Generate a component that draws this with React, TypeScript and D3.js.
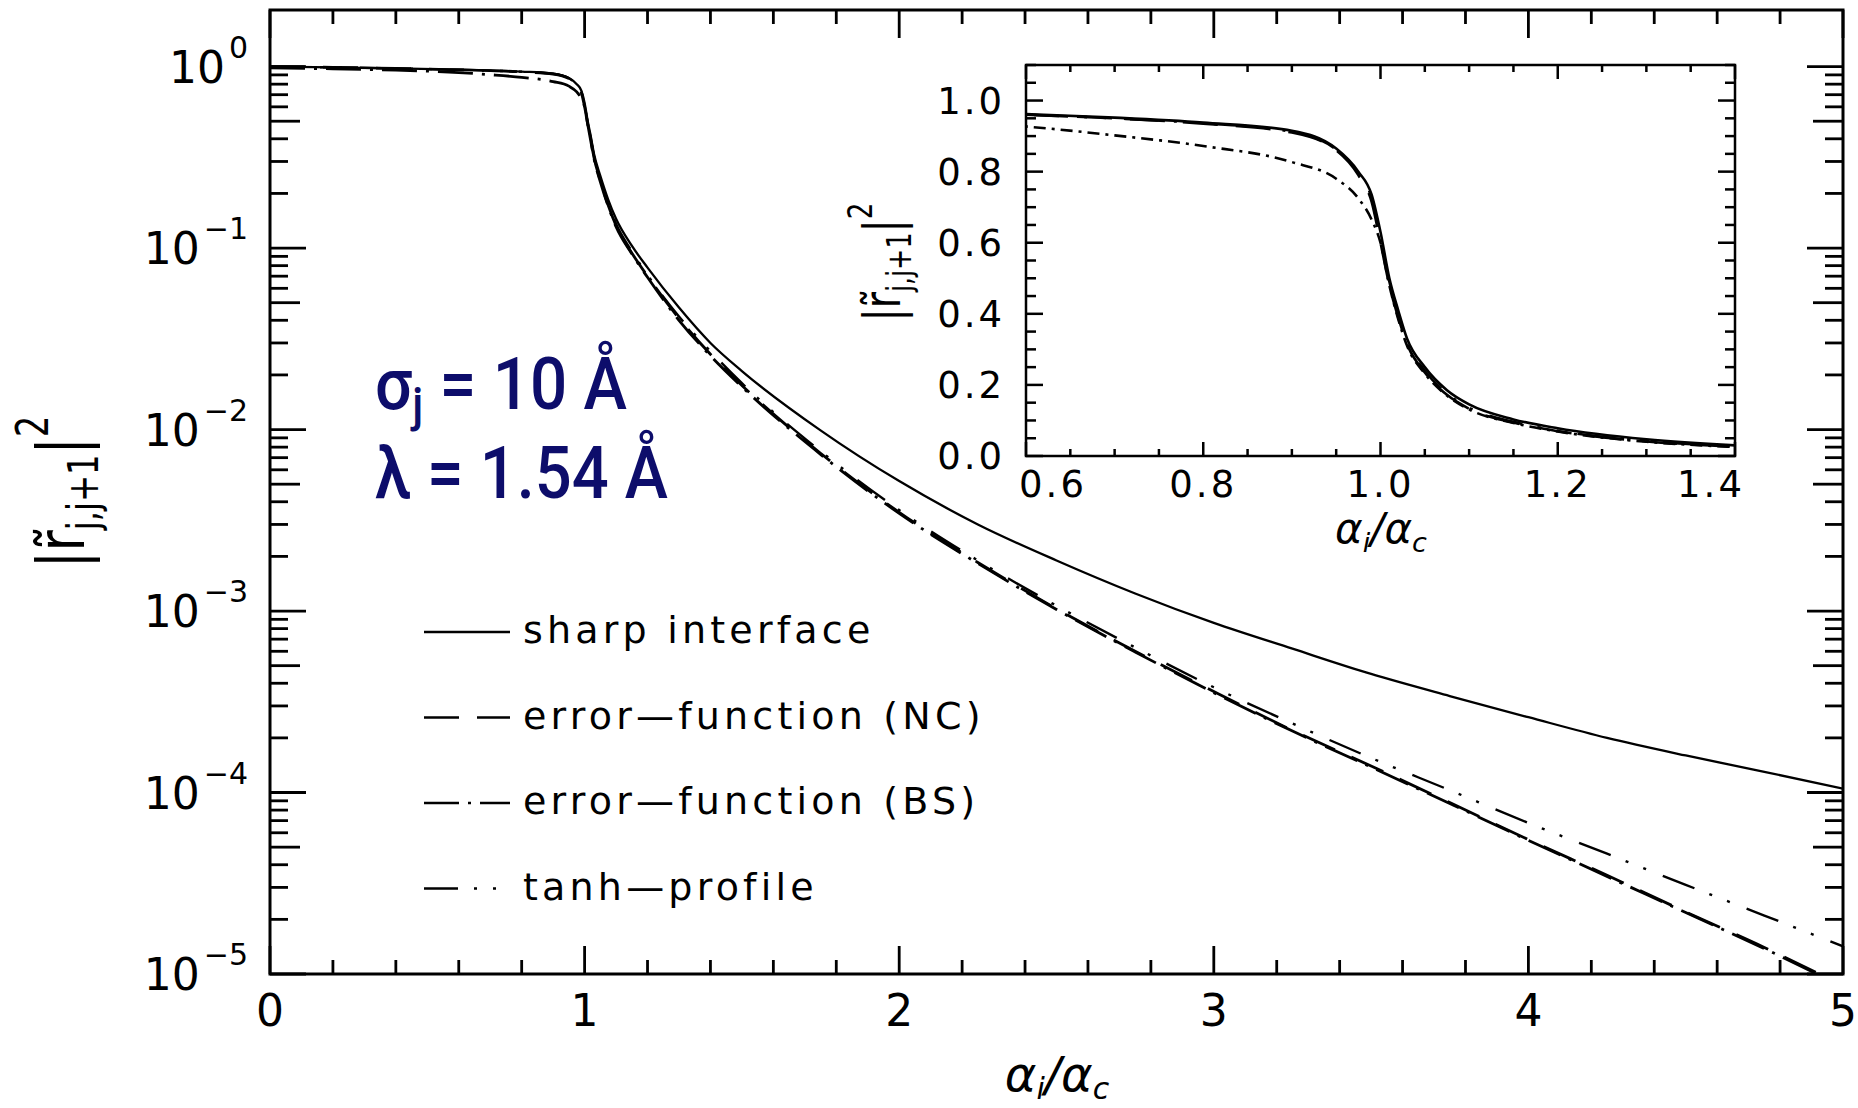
import React from 'react';
import * as d3 from 'd3';

// incidence angle in units of the critical angle
const alpha = [0, 0.2, 0.4, 0.6, 0.7, 0.8, 0.9, 0.95, 0.975, 0.99,
  1.0, 1.01, 1.02, 1.03, 1.05, 1.075, 1.1, 1.15, 1.2, 1.3,
  1.4, 1.5, 1.75, 2.0, 2.25, 2.5, 2.75, 3.0, 3.25, 3.5,
  3.75, 4.0, 4.25, 4.5, 4.75, 5.0];

// |r_j,j+1|^2
const sharpInterface = [1.0, 0.99, 0.978, 0.962, 0.952, 0.938, 0.915, 0.865, 0.80, 0.735,
  0.63, 0.50, 0.41, 0.33, 0.25, 0.185, 0.145, 0.103, 0.078, 0.047,
  0.030, 0.021, 0.0099, 5.2e-3, 3.0e-3, 1.9e-3, 1.25e-3, 8.6e-4, 6.2e-4, 4.5e-4,
  3.4e-4, 2.6e-4, 2.0e-4, 1.6e-4, 1.3e-4, 1.05e-4];
const errorFunctionNC = [1.0, 0.99, 0.977, 0.960, 0.950, 0.935, 0.91, 0.86, 0.79, 0.715,
  0.60, 0.48, 0.39, 0.315, 0.235, 0.172, 0.133, 0.094, 0.070, 0.041,
  0.026, 0.0175, 0.0074, 3.5e-3, 1.85e-3, 1.03e-3, 6.0e-4, 3.6e-4, 2.2e-4, 1.4e-4,
  8.8e-5, 5.5e-5, 3.5e-5, 2.2e-5, 1.4e-5, 8.6e-6];
const errorFunctionBS = [0.985, 0.972, 0.955, 0.927, 0.902, 0.872, 0.827, 0.78, 0.725, 0.665,
  0.60, 0.48, 0.385, 0.31, 0.232, 0.17, 0.131, 0.093, 0.069, 0.040,
  0.0255, 0.0172, 0.0073, 3.45e-3, 1.83e-3, 1.02e-3, 5.95e-4, 3.55e-4, 2.18e-4, 1.38e-4,
  8.7e-5, 5.45e-5, 3.45e-5, 2.18e-5, 1.38e-5, 8.5e-6];
const tanhProfile = [1.0, 0.99, 0.977, 0.960, 0.950, 0.936, 0.912, 0.862, 0.795, 0.725,
  0.61, 0.49, 0.40, 0.32, 0.24, 0.176, 0.136, 0.096, 0.071, 0.042,
  0.027, 0.018, 0.0076, 3.6e-3, 1.9e-3, 1.07e-3, 6.3e-4, 3.8e-4, 2.4e-4, 1.55e-4,
  1.03e-4, 6.8e-5, 4.6e-5, 3.1e-5, 2.1e-5, 1.42e-5];

const legendLabels = ['sharp  interface', 'error\u2014function  (NC)', 'error\u2014function  (BS)', 'tanh\u2014profile'];
const xTicksMain = [0, 1, 2, 3, 4, 5];
const yDecades = [0, -1, -2, -3, -4, -5];
const insetXTicks = [0.6, 0.8, 1.0, 1.2, 1.4];
const insetYTicks = [0, 0.2, 0.4, 0.6, 0.8, 1.0];

const series = [
  { values: sharpInterface, dash: 'none', width: 2.3, insetDash: 'none' },
  { values: errorFunctionNC, dash: '35,18', width: 2.8, insetDash: '35,18' },
  { values: errorFunctionBS, dash: '35,9,3,9', width: 2.8, insetDash: '12,6,3,6' },
  { values: tanhProfile, dash: '34,16,3,16,3,18', width: 2.4, insetDash: '34,16,3,16,3,18' },
];

const W = 1858, H = 1108;
const m = { left: 270, right: 1843, top: 10, bottom: 974 };
const ins = { left: 1026, right: 1735, top: 65, bottom: 456 };
const font = "'DejaVu Sans', 'Liberation Sans', sans-serif";
const navy = '#0d0d6b';

const App = () => {
  const x = d3.scaleLinear().domain([0, 5]).range([m.left, m.right]);
  const y = d3.scaleLog().domain([1e-5, 2.05]).range([m.bottom, m.top]);
  const xi = d3.scaleLinear().domain([0.6, 1.4]).range([ins.left, ins.right]);
  const yi = d3.scaleLinear().domain([0, 1.1]).range([ins.bottom, ins.top]);

  const mainLine = d3.line<number>()
    .x((_, i) => x(alpha[i]))
    .y(d => y(d))
    .curve(d3.curveMonotoneX);
  const insetLine = d3.line<number>()
    .x((_, i) => xi(alpha[i]))
    .y(d => yi(d))
    .curve(d3.curveMonotoneX);

  // main axis ticks
  const xMinor = d3.range(0, 26).map(k => k * 0.2).filter((_, k) => k % 5 !== 0);
  const yMinor: { v: number; mid: boolean }[] = [];
  yDecades.forEach(d => {
    for (let k = 2; k <= 9; k++) {
      const v = k * Math.pow(10, d);
      if (v < 1.5) yMinor.push({ v, mid: k === 5 });
    }
  });

  // inset ticks
  const ixTicks = d3.range(12, 29).map(k => ({ v: k * 0.05, major: k % 4 === 0 }));
  const iyTicks = d3.range(0, 23).map(k => ({ v: k * 0.05, major: k % 4 === 0 }));

  const legendTop = 632, legendStep = 85.5;
  const sup = (d: number) => (d === 0 ? '0' : '\u2212' + (-d));

  return (
    <svg width={W} height={H} style={{ position: 'absolute', left: 0, top: 0, background: '#fff' }}
      fontFamily={font}>
      <defs>
        <clipPath id="mainClip">
          <rect x={m.left} y={m.top} width={m.right - m.left} height={m.bottom - m.top} />
        </clipPath>
        <clipPath id="insetClip">
          <rect x={ins.left} y={ins.top} width={ins.right - ins.left} height={ins.bottom - ins.top} />
        </clipPath>
      </defs>
      <rect width={W} height={H} fill="#fff" />

      {/* main curves */}
      <g clipPath="url(#mainClip)" fill="none" stroke="#000">
        {series.map((s, i) => (
          <path key={i} d={mainLine(s.values) || ''} strokeDasharray={s.dash} strokeWidth={s.width} />
        ))}
      </g>

      {/* main frame and ticks */}
      <g stroke="#000" strokeWidth={2.8}>
        {xTicksMain.map(t => (
          <g key={'xM' + t}>
            <line x1={x(t)} x2={x(t)} y1={m.bottom} y2={m.bottom - 28} />
            <line x1={x(t)} x2={x(t)} y1={m.top} y2={m.top + 28} />
          </g>
        ))}
        {xMinor.map(t => (
          <g key={'xm' + t}>
            <line x1={x(t)} x2={x(t)} y1={m.bottom} y2={m.bottom - 14} />
            <line x1={x(t)} x2={x(t)} y1={m.top} y2={m.top + 14} />
          </g>
        ))}
        {yDecades.map(d => (
          <g key={'yM' + d}>
            <line x1={m.left} x2={m.left + 36} y1={y(Math.pow(10, d))} y2={y(Math.pow(10, d))} />
            <line x1={m.right} x2={m.right - 36} y1={y(Math.pow(10, d))} y2={y(Math.pow(10, d))} />
          </g>
        ))}
        {yMinor.map(t => (
          <g key={'ym' + t.v}>
            <line x1={m.left} x2={m.left + (t.mid ? 30 : 18)} y1={y(t.v)} y2={y(t.v)} />
            <line x1={m.right} x2={m.right - (t.mid ? 30 : 18)} y1={y(t.v)} y2={y(t.v)} />
          </g>
        ))}
        <rect x={m.left} y={m.top} width={m.right - m.left} height={m.bottom - m.top} fill="none" strokeWidth={3} />
      </g>

      {/* main tick labels */}
      <g fontSize={44} fill="#000">
        {xTicksMain.map(t => (
          <text key={'xl' + t} x={x(t)} y={1026} textAnchor="middle">{t}</text>
        ))}
        {yDecades.map(d => (
          <text key={'yl' + d} x={248} y={y(Math.pow(10, d)) + 16} textAnchor="end">
            10<tspan dx={4} dy={-25} fontSize={30}>{sup(d)}</tspan>
          </text>
        ))}
      </g>

      {/* main axis titles */}
      <text x={1057} y={1091} textAnchor="middle" fontSize={48} fontStyle="italic">
        α<tspan dy={8} fontSize={30}>i</tspan><tspan dy={-8}>/α</tspan><tspan dy={8} fontSize={30}>c</tspan>
      </text>
      <text transform="translate(84,492) rotate(-90) scale(0.77,1)" textAnchor="middle" fontSize={66}>
        |r&#771;<tspan dy={14} fontSize={42}>j,j+1</tspan><tspan dy={-14}>|</tspan><tspan dy={-36} fontSize={44}>2</tspan>
      </text>

      {/* annotation */}
      <g fill={navy} fontFamily="'Liberation Sans Narrow', Roboto, 'Open Sans', sans-serif" fontSize={72} fontWeight={500}>
        <text x={375} y={409} textLength={252} lengthAdjust="spacingAndGlyphs">
          σ<tspan dy={12} fontSize={48}>j</tspan><tspan dy={-12}> = 10 Å</tspan>
        </text>
        <text x={375} y={498} textLength={293} lengthAdjust="spacingAndGlyphs">λ = 1.54 Å</text>
      </g>

      {/* legend */}
      <g>
        {series.map((s, i) => {
          const ly = legendTop + i * legendStep;
          return (
            <g key={'lg' + i}>
              <line x1={424} x2={510} y1={ly} y2={ly} stroke="#000" strokeWidth={2.6} strokeDasharray={s.dash} />
              <text x={523} y={ly + 11} fontSize={38} letterSpacing={4.2}>{legendLabels[i]}</text>
            </g>
          );
        })}
      </g>

      {/* inset */}
      <rect x={ins.left} y={ins.top} width={ins.right - ins.left} height={ins.bottom - ins.top} fill="#fff" />
      <g clipPath="url(#insetClip)" fill="none" stroke="#000" strokeWidth={2.6}>
        {series.map((s, i) => (
          <path key={'i' + i} d={insetLine(s.values) || ''} strokeDasharray={s.insetDash} />
        ))}
      </g>
      <g stroke="#000" strokeWidth={2.5}>
        {ixTicks.map(t => (
          <g key={'ix' + t.v}>
            <line x1={xi(t.v)} x2={xi(t.v)} y1={ins.bottom} y2={ins.bottom - (t.major ? 14 : 7)} />
            <line x1={xi(t.v)} x2={xi(t.v)} y1={ins.top} y2={ins.top + (t.major ? 14 : 7)} />
          </g>
        ))}
        {iyTicks.map(t => (
          <g key={'iy' + t.v}>
            <line x1={ins.left} x2={ins.left + (t.major ? 17 : 10)} y1={yi(t.v)} y2={yi(t.v)} />
            <line x1={ins.right} x2={ins.right - (t.major ? 17 : 10)} y1={yi(t.v)} y2={yi(t.v)} />
          </g>
        ))}
        <rect x={ins.left} y={ins.top} width={ins.right - ins.left} height={ins.bottom - ins.top} fill="none" />
      </g>
      <g fontSize={37} fill="#000" letterSpacing={3}>
        {insetXTicks.map((t, i) => (
          <text key={'ixl' + t} x={xi(t) + (i === 0 ? 27 : i === insetXTicks.length - 1 ? -24 : 0)} y={497}
            textAnchor="middle">{d3.format('.1f')(t)}</text>
        ))}
        {insetYTicks.map(t => (
          <text key={'iyl' + t} x={1005} y={yi(t) + 13} textAnchor="end">{d3.format('.1f')(t)}</text>
        ))}
      </g>
      <text x={1381} y={543} textAnchor="middle" fontSize={42} fontStyle="italic">
        α<tspan dy={9} fontSize={27}>i</tspan><tspan dy={-9}>/α</tspan><tspan dy={9} fontSize={27}>c</tspan>
      </text>
      <text transform="translate(900,262) rotate(-90) scale(0.77,1)" textAnchor="middle" fontSize={51}>
        |r&#771;<tspan dy={11} fontSize={33}>j,j+1</tspan><tspan dy={-11}>|</tspan><tspan dy={-28} fontSize={34}>2</tspan>
      </text>
    </svg>
  );
};

export default App;
